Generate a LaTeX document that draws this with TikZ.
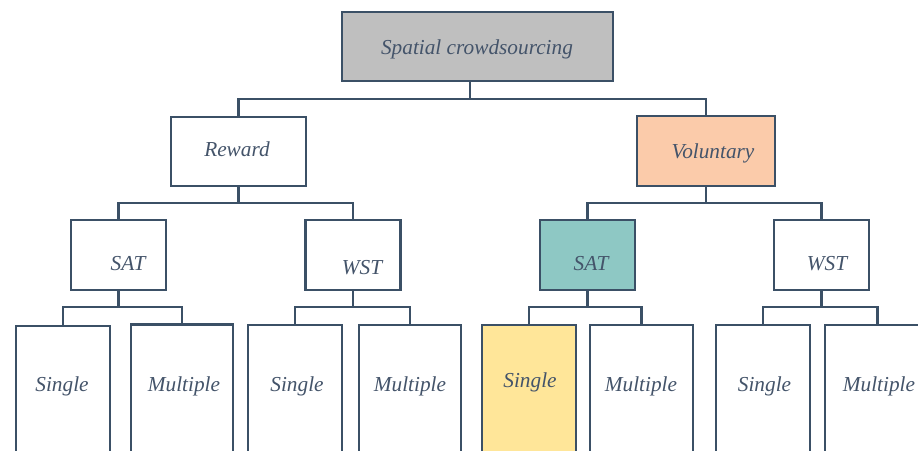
\documentclass[tikz,border=0pt]{standalone}
\usepackage{fontspec}
\setmainfont{Liberation Serif}
\definecolor{lc}{HTML}{3B5066}
\definecolor{tc}{HTML}{44546A}
\definecolor{grayfill}{HTML}{BFBFBF}
\definecolor{peach}{HTML}{FBCBAA}
\definecolor{teal}{HTML}{8EC8C4}
\definecolor{yellowfill}{HTML}{FFE699}
\begin{document}
\begin{tikzpicture}[x=1pt,y=-1pt,
  box/.style={draw=lc,line width=2.8pt,fill=white,inner sep=0pt},
  midbox/.style={box,minimum width=95pt,minimum height=70pt},
  leaf/.style={box,minimum width=94pt,minimum height=135pt},
  lbl/.style={text=tc,inner sep=0pt,font=\fontsize{21.3}{25}\selectfont\itshape},
  conn/.style={draw=lc,line width=2.8pt}]
\useasboundingbox (0,0) rectangle (918,450);
% boxes
\node[box,minimum width=271pt,minimum height=69pt,fill=grayfill] (top) at (477.5,46.5) {};
\node[box,minimum width=135pt,minimum height=69pt] (reward) at (238.5,151.5) {};
\node[box,minimum width=138pt,minimum height=70pt,fill=peach] (vol) at (706,151) {};
\node[midbox] (sat1) at (118.5,255) {};
\node[midbox] (wst1) at (353,255) {};
\node[midbox,fill=teal] (sat2) at (587.5,255) {};
\node[midbox] (wst2) at (821.5,255) {};
\node[leaf] (s1) at (63,393.5) {};
\node[leaf,minimum width=102pt] (m1) at (182,392) {};
\node[leaf] (s2) at (295,392.5) {};
\node[leaf,minimum width=102pt] (m2) at (410,392.5) {};
\node[leaf,fill=yellowfill] (s3) at (529,392.5) {};
\node[leaf,minimum width=103pt] (m3) at (641.5,392.5) {};
\node[leaf] (s4) at (763,392.5) {};
\node[leaf,minimum width=105pt] (m4) at (877.5,392.5) {};
% labels
\node[lbl] (ttop) at (477,49.5) {Spatial crowdsourcing};
\node[lbl] (treward) at (237,149) {Reward};
\node[lbl] (tvol) at (713,153) {Voluntary};
\node[lbl] (tsat1) at (128,264) {SAT};
\node[lbl] (twst1) at (362,268) {WST};
\node[lbl] (tsat2) at (591,263.5) {SAT};
\node[lbl] (twst2) at (827,264) {WST};
\node[lbl] (ts1) at (62,386) {Single};
\node[lbl] (tm1) at (184,386) {Multiple};
\node[lbl] (ts2) at (297,386) {Single};
\node[lbl] (tm2) at (410,386) {Multiple};
\node[lbl] (ts3) at (530,382.5) {Single};
\node[lbl] (tm3) at (641,386) {Multiple};
\node[lbl] (ts4) at (764.5,386) {Single};
\node[lbl] (tm4) at (879,386) {Multiple};
% connectors
\coordinate (b0) at (470,99);
\coordinate (b1) at (238.5,203);
\coordinate (b2) at (706,203);
\coordinate (b3) at (118.5,307);
\coordinate (b4) at (353,307);
\coordinate (b5) at (587.5,307);
\coordinate (b6) at (821.5,307);
\draw[conn] (top.south -| b0) -- (b0);
\draw[conn] (reward.north) |- (b0) -| (vol.north);
\draw[conn] (reward.south) -- (b1);
\draw[conn] (sat1.north) |- (b1) -| (wst1.north);
\draw[conn] (vol.south) -- (b2);
\draw[conn] (sat2.north) |- (b2) -| (wst2.north);
\draw[conn] (sat1.south) -- (b3);
\draw[conn] (s1.north) |- (b3) -| (m1.north);
\draw[conn] (wst1.south) -- (b4);
\draw[conn] (s2.north) |- (b4) -| (m2.north);
\draw[conn] (sat2.south) -- (b5);
\draw[conn] (s3.north) |- (b5) -| (m3.north);
\draw[conn] (wst2.south) -- (b6);
\draw[conn] (s4.north) |- (b6) -| (m4.north);
\end{tikzpicture}
\end{document}
